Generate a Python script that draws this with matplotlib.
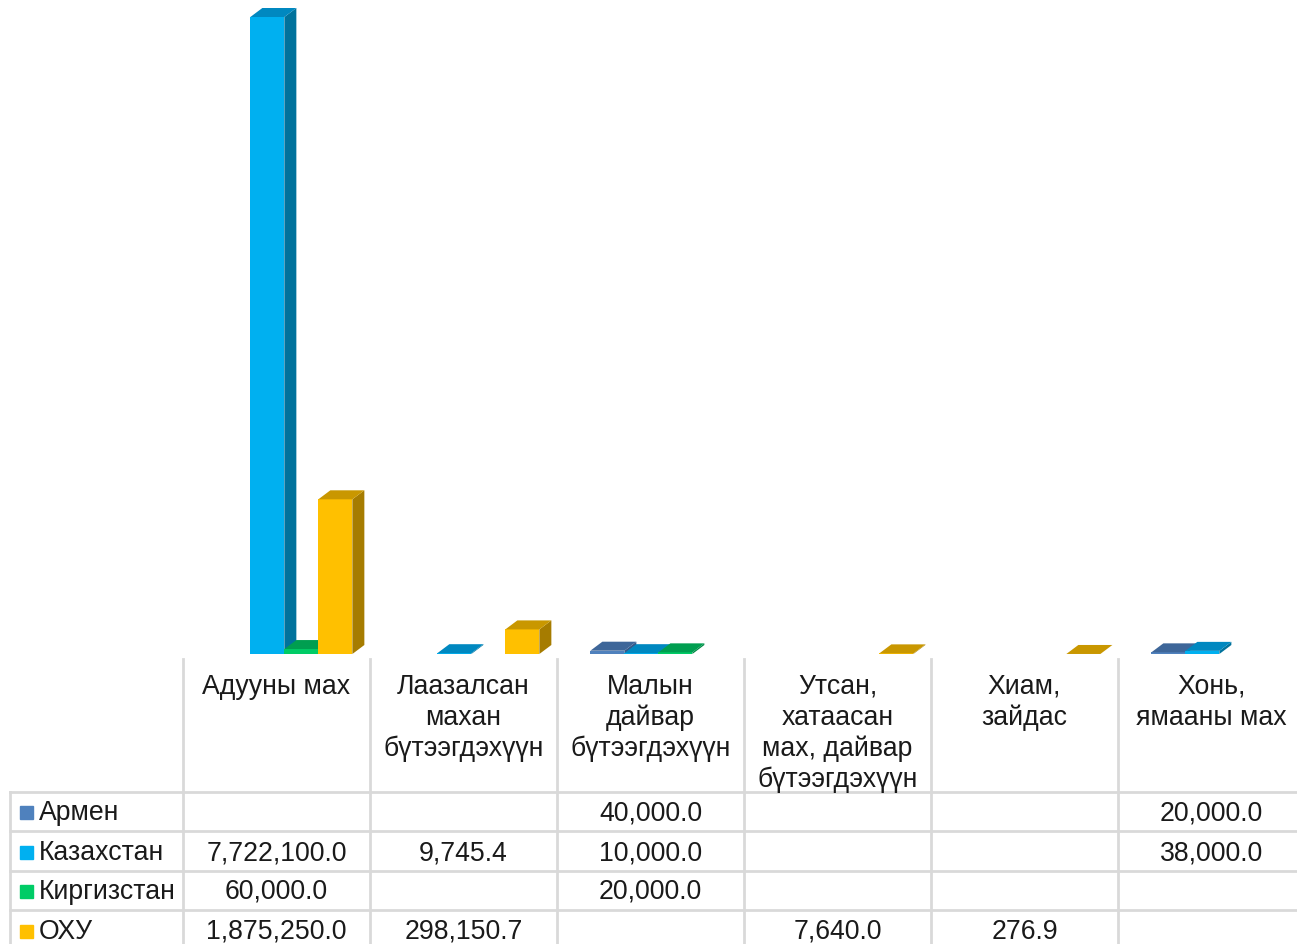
import numpy as np
import matplotlib
matplotlib.use('Agg')
import matplotlib.pyplot as plt
from matplotlib.patches import Polygon, Rectangle
from matplotlib import transforms

plt.rcParams['font.family'] = ['Liberation Sans', 'DejaVu Sans']

# Data
categories = ['Адууны мах', 'Лаазалсан\nмахан\nбүтээгдэхүүн', 'Малын\nдайвар\nбүтээгдэхүүн',
              'Утсан,\nхатаасан\nмах, дайвар\nбүтээгдэхүүн', 'Хиам,\nзайдас', 'Хонь,\nямааны мах']
series_names = ['Армен', 'Казахстан', 'Киргизстан', 'ОХУ']
armen = [np.nan, np.nan, 40000.0, np.nan, np.nan, 20000.0]
kazakhstan = [7722100.0, 9745.4, 10000.0, np.nan, np.nan, 38000.0]
kyrgyzstan = [60000.0, np.nan, 20000.0, np.nan, np.nan, np.nan]
russia = [1875250.0, 298150.7, np.nan, 7640.0, 276.9, np.nan]
series_values = [armen, kazakhstan, kyrgyzstan, russia]

front_colors = ['#4F81BD', '#00B0F0', '#00CC66', '#FFC000']
top_colors = ['#3E6699', '#0088C0', '#009E50', '#C99700']
side_colors = ['#36598A', '#00729C', '#008A45', '#A67C00']

W, H = 1297, 945
fig = plt.figure(figsize=(W / 100, H / 100), dpi=100)
base_px = 655
col_px = 187
ax = fig.add_axes([183 / W, (H - base_px) / H, 6 * col_px / W, base_px / H])
ax.axis('off')

ymax = 7722100 * base_px / 637
ax.set_xlim(-0.5, 5.5)
ax.set_ylim(0, ymax)

# fake 3D depth, in data units
bw = 34 / col_px
dx = 12 / col_px
dy = 9 * ymax / base_px
group_shift = 0.042

x = np.arange(len(categories))
for i, (vals, fc, tc, sc) in enumerate(zip(series_values, front_colors, top_colors, side_colors)):
    xpos = x + group_shift + (i - 1.5) * bw
    vals = np.array(vals)
    ax.bar(xpos, vals, width=bw, color=fc, zorder=3 + i, clip_on=False)
    for xc, v in zip(xpos, vals):
        if np.isnan(v):
            continue
        x0 = xc - bw / 2
        x1 = xc + bw / 2
        side = Polygon([(x1, 0), (x1 + dx, dy), (x1 + dx, v + dy), (x1, v)],
                       closed=True, facecolor=sc, edgecolor='none', zorder=3 + i, clip_on=False)
        top = Polygon([(x0, v), (x0 + dx, v + dy), (x1 + dx, v + dy), (x1, v)],
                      closed=True, facecolor=tc, edgecolor='none', zorder=3 + i, clip_on=False)
        ax.add_patch(side)
        ax.add_patch(top)

# Data table below the chart
def fy(py):
    return 1 - py / H

bt = transforms.blended_transform_factory(ax.transData, fig.transFigure)
grid_c = '#D9D9D9'
row_lines = [793, 832, 872, 911]
row_centers = [813, 853, 892, 932]

for b in np.arange(-0.5, 6.0, 1.0):
    fig.add_artist(plt.Line2D([b, b], [fy(660), fy(H + 5)], transform=bt, color=grid_c, lw=2))
fig.add_artist(plt.Line2D([10 / W, 10 / W], [fy(793), fy(H + 5)], color=grid_c, lw=2))
for ry in row_lines:
    fig.add_artist(plt.Line2D([10 / W, 1], [fy(ry), fy(ry)], color=grid_c, lw=2))

fs = 19.2
for j, cat in enumerate(categories):
    fig.text(j, fy(674), cat, transform=bt, ha='center', va='top', fontsize=fs,
             linespacing=1.23, color='#1a1a1a')

for i, name in enumerate(series_names):
    yc = row_centers[i]
    fig.add_artist(Rectangle((20 / W, fy(yc + 7)), 13 / W, 13 / H, color=front_colors[i]))
    fig.text(39 / W, fy(yc), name, ha='left', va='center', fontsize=fs, color='#1a1a1a')
    for j, v in enumerate(series_values[i]):
        if np.isnan(v):
            continue
        fig.text(j, fy(yc), f'{v:,.1f}', transform=bt, ha='center', va='center',
                 fontsize=fs, color='#1a1a1a')

fig.savefig('out.png', dpi=100)
